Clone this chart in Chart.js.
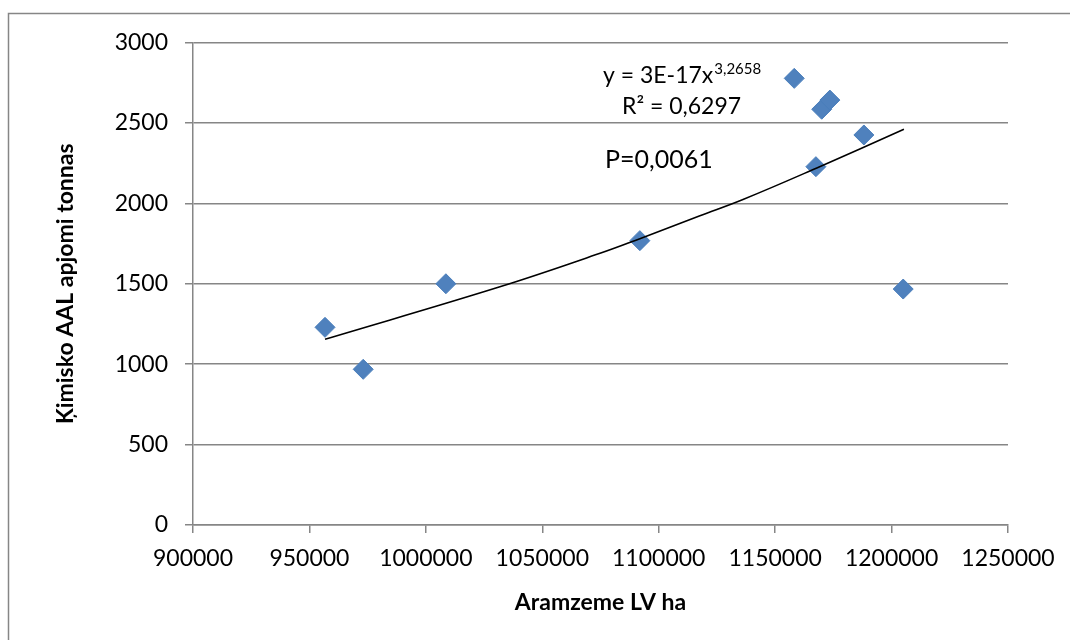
<!DOCTYPE html>
<html>
<head>
<meta charset="utf-8">
<script src="https://cdn.jsdelivr.net/npm/chart.js@4"></script>
<style>
  body { margin: 0; background: #fff; }
  #wrap { position: relative; width: 1070px; height: 640px; }
</style>
</head>
<body>
<div id="wrap"><canvas id="chart"></canvas></div>
<script>
// observed points: arable land (ha) vs chemical plant protection products (t)
const areaHa = [956700, 973100, 1008600, 1091900, 1158200, 1167500, 1170000, 1173500, 1188100, 1205000];
const chemTonnes = [1229, 968, 1500, 1768, 2777, 2228, 2585, 2642, 2425, 1467];

// power trendline
const trendX = [956700, 1031800, 1074800, 1091900, 1117700, 1136200, 1167900, 1205300];
const trendY = [1155, 1481, 1689, 1780, 1923, 2024, 2220, 2460];

const xTicks = [900000, 950000, 1000000, 1050000, 1100000, 1150000, 1200000, 1250000];
const yTicks = [0, 500, 1000, 1500, 2000, 2500, 3000];

const gridColor = '#868686';
const fontFamily = 'Lato, "Open Sans", sans-serif';

document.addEventListener('DOMContentLoaded', function() {
  const ctx = document.getElementById('chart').getContext('2d');

  const frame = {
    id: 'frame',
    beforeDraw(chart) {
      const c = chart.ctx;
      c.save();
      c.strokeStyle = gridColor;
      c.lineWidth = 1.5;
      c.beginPath();
      c.moveTo(8.5, 640);
      c.lineTo(8.5, 13.5);
      c.lineTo(1070, 13.5);
      c.stroke();
      c.restore();
    }
  };

  const notes = {
    id: 'notes',
    afterDatasetsDraw(chart) {
      const c = chart.ctx;
      c.save();
      c.fillStyle = '#000';
      c.textBaseline = 'alphabetic';
      c.textAlign = 'left';
      c.font = '23px ' + fontFamily;
      const eq = 'y = 3E-17x';
      c.fillText(eq, 603, 83);
      const w = c.measureText(eq).width;
      c.font = '15px ' + fontFamily;
      c.fillText('3,2658', 603 + w + 1, 74);
      c.font = '23px ' + fontFamily;
      c.fillText('R² = 0,6297', 622, 114);
      c.font = '25px ' + fontFamily;
      c.fillText('P=0,0061', 605, 168);
      c.restore();
    }
  };

  new Chart(ctx, {
    type: 'scatter',
    data: {
      datasets: [{
        type: 'line',
        label: 'trend',
        data: trendX.map((x, i) => ({ x: x, y: trendY[i] })),
        borderColor: '#000',
        borderWidth: 1.6,
        pointRadius: 0,
        fill: false,
        tension: 0.4
      }, {
        label: 'AAL',
        data: areaHa.map((x, i) => ({ x: x, y: chemTonnes[i] })),
        pointStyle: 'rectRot',
        pointRadius: 10,
        backgroundColor: '#4F81BD',
        borderColor: '#4A7EBB',
        borderWidth: 1
      }]
    },
    options: {
      responsive: true,
      maintainAspectRatio: false,
      animation: false,
      layout: { padding: { left: 0, right: 62, top: 42.5, bottom: 0 } },
      plugins: {
        legend: { display: false },
        tooltip: { enabled: false }
      },
      scales: {
        x: {
          type: 'linear',
          min: 900000,
          max: 1250000,
          afterFit: s => { s.height = 115; },
          afterBuildTicks: s => { s.ticks = xTicks.map(v => ({ value: v })); },
          grid: { drawOnChartArea: false, drawTicks: true, tickLength: 8, color: gridColor, lineWidth: 1.5 },
          border: { display: true, color: gridColor, width: 1.5 },
          ticks: {
            padding: 12,
            color: '#000',
            font: { family: fontFamily, size: 23 },
            maxRotation: 0,
            callback: v => String(v)
          },
          title: {
            display: true,
            text: 'Aramzeme LV ha',
            color: '#000',
            font: { family: fontFamily, size: 23, weight: 'bold' },
            padding: { top: 0, bottom: 24 }
          }
        },
        y: {
          min: 0,
          max: 3000,
          afterFit: s => { s.width = 193; },
          afterBuildTicks: s => { s.ticks = yTicks.map(v => ({ value: v })); },
          grid: { drawTicks: true, tickLength: 8, color: gridColor, lineWidth: 1.5 },
          border: { display: true, color: gridColor, width: 1.5 },
          ticks: {
            padding: 17,
            color: '#000',
            font: { family: fontFamily, size: 23 },
            callback: v => String(v)
          },
          title: {
            display: true,
            text: 'Ķimisko AAL apjomi tonnas',
            color: '#000',
            font: { family: fontFamily, size: 23, weight: 'bold' },
            padding: { top: 52, bottom: 0 }
          }
        }
      }
    },
    plugins: [frame, notes]
  });
});
</script>
</body>
</html>
